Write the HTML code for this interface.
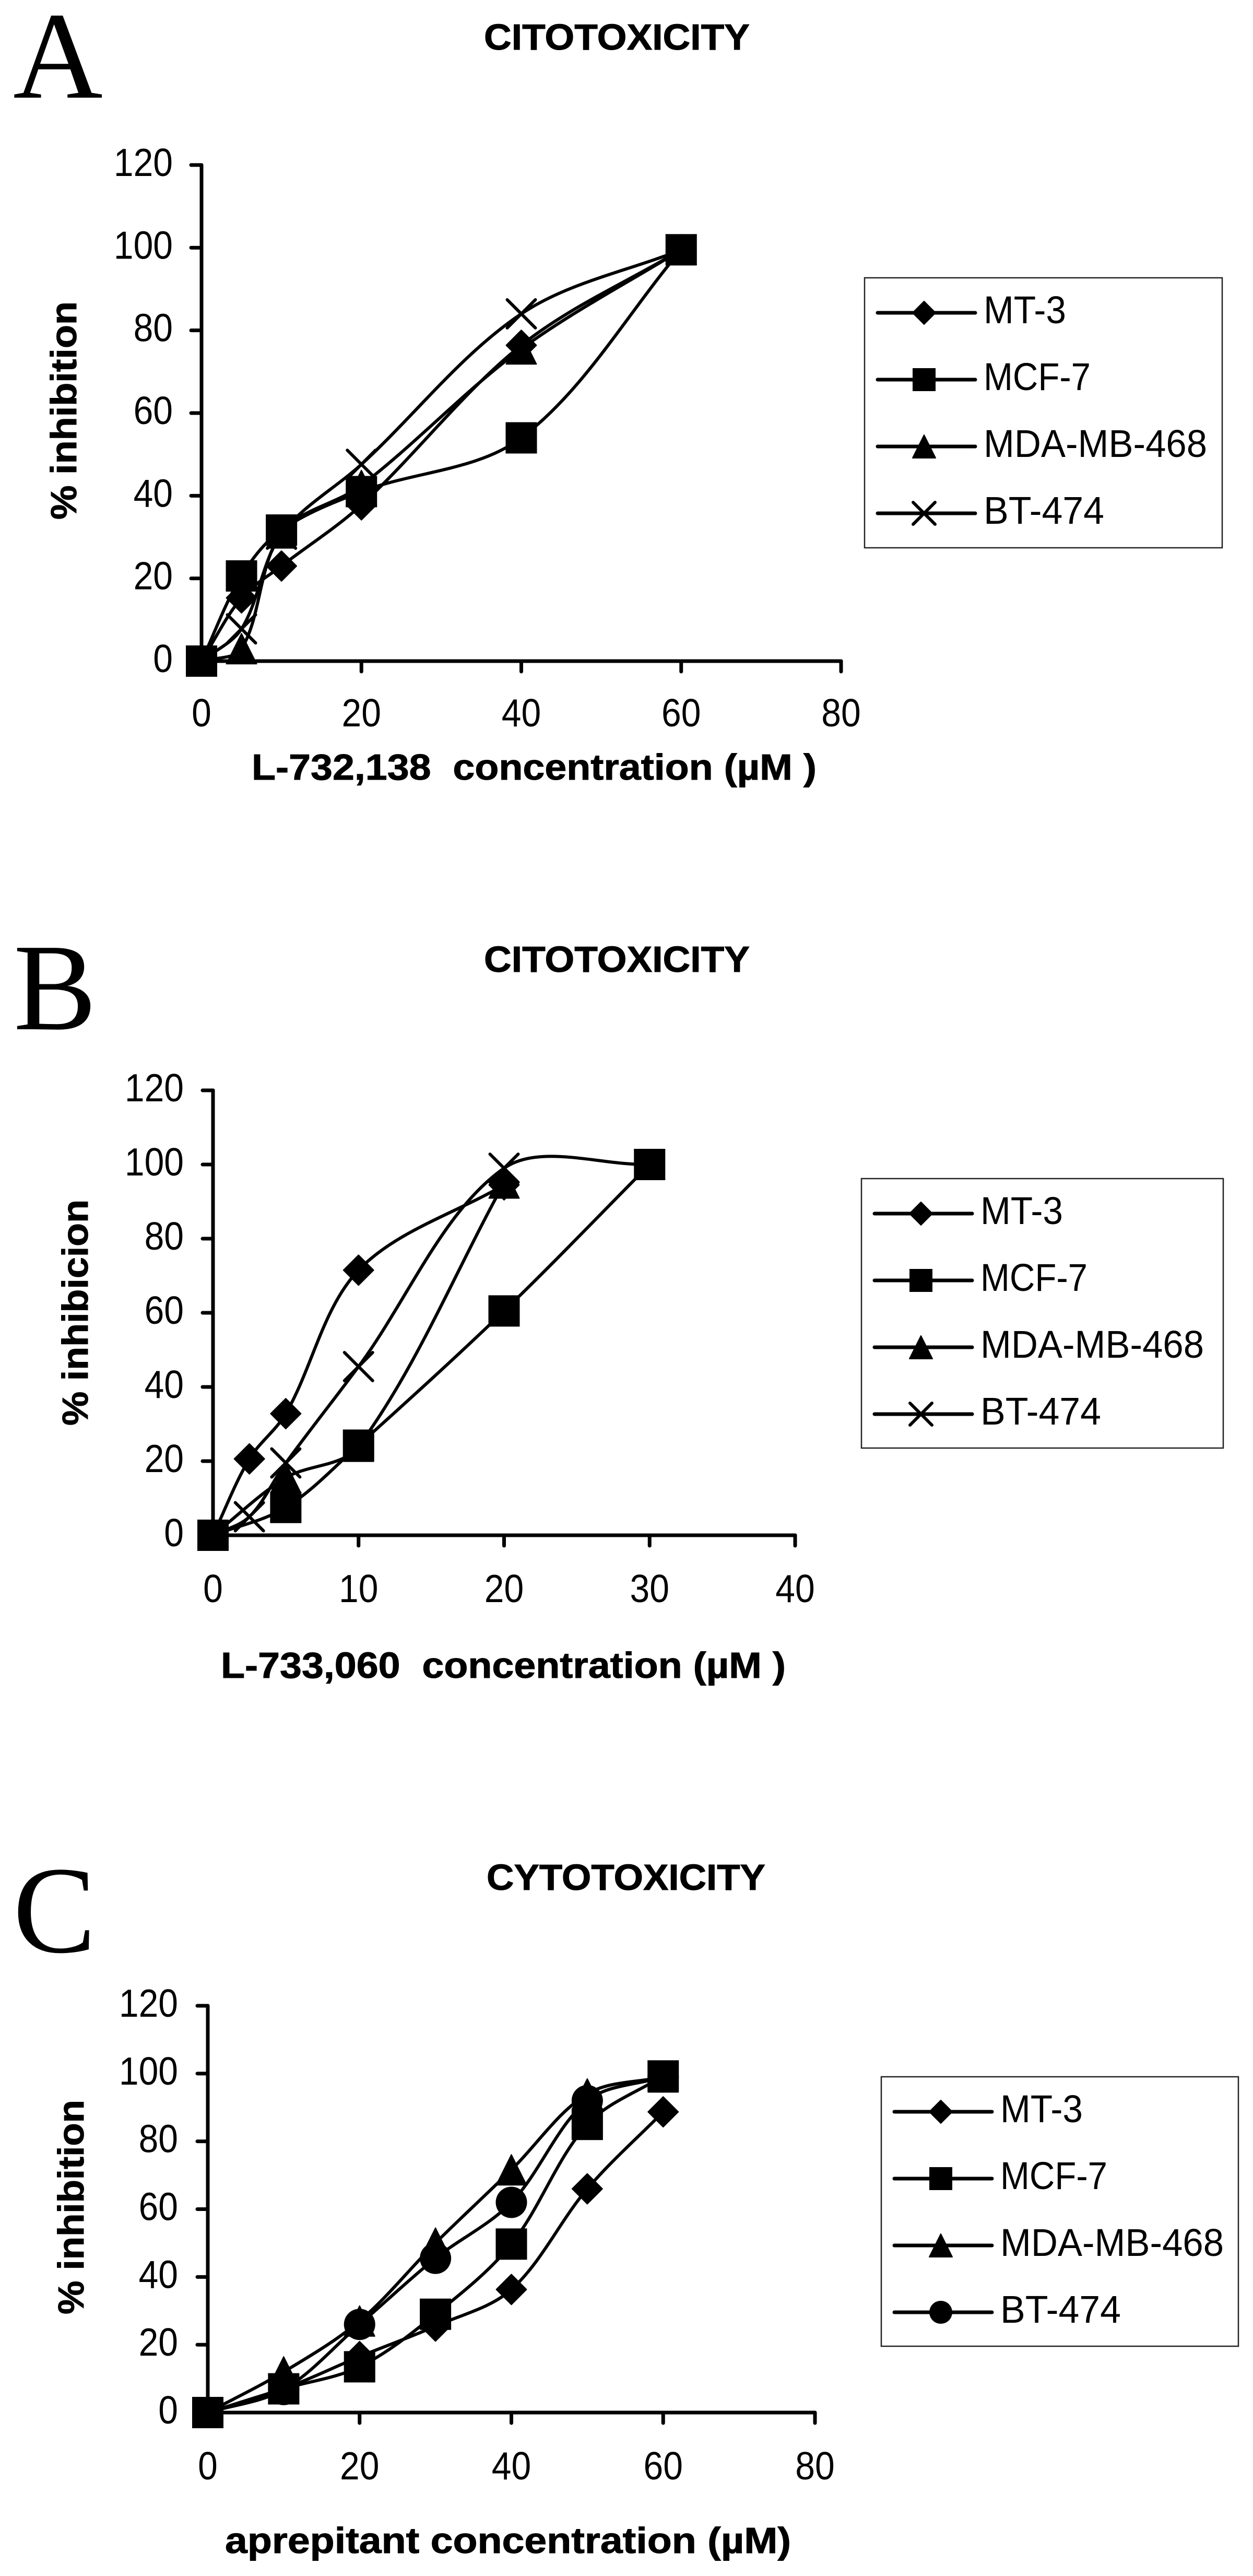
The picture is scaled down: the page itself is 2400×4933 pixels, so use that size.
<!DOCTYPE html>
<html lang="en">
<head>
<meta charset="utf-8">
<title>Cytotoxicity charts</title>
<style>
html,body{margin:0;padding:0;background:#fff;width:2400px;height:4933px;overflow:hidden}
svg{display:block}
text{fill:#000;font-family:"Liberation Sans",Arial,sans-serif}
.letter{font-family:"Liberation Serif","Times New Roman",serif;font-size:238px}
.bold{font-weight:bold;font-size:70px;white-space:pre;stroke:#000;stroke-width:1}
.tick{font-size:75px}
.leg{font-size:74px}
</style>
</head>
<body>
<svg id="figure" xmlns="http://www.w3.org/2000/svg" width="2400" height="4933" viewBox="0 0 2400 4933">
  <rect x="0" y="0" width="2400" height="4933" fill="#fff"/>

  <g id="panel-a">
    <text class="letter" x="25" y="187">A</text>
    <text class="bold" x="927" y="95" textLength="509" lengthAdjust="spacingAndGlyphs">CITOTOXICITY</text>
    <text class="bold" x="482" y="1493" textLength="1082" lengthAdjust="spacingAndGlyphs">L-732,138&#160;&#160;concentration (µM )</text>
    <text class="bold" transform="translate(146,995) rotate(-90)" x="0" y="0" textLength="418" lengthAdjust="spacingAndGlyphs">% inhibition</text>
  </g>

  <g id="panel-b">
    <text class="letter" x="26" y="1971">B</text>
    <text class="bold" x="927" y="1861" textLength="509" lengthAdjust="spacingAndGlyphs">CITOTOXICITY</text>
    <text class="bold" x="423" y="3213" textLength="1082" lengthAdjust="spacingAndGlyphs">L-733,060&#160;&#160;concentration (µM )</text>
    <text class="bold" transform="translate(168,2730) rotate(-90)" x="0" y="0" textLength="433" lengthAdjust="spacingAndGlyphs">% inhibicion</text>
  </g>

  <g id="panel-c">
    <text class="letter" x="25" y="3738">C</text>
    <text class="bold" x="932" y="3619" textLength="534" lengthAdjust="spacingAndGlyphs">CYTOTOXICITY</text>
    <text class="bold" x="431" y="4889" textLength="1084" lengthAdjust="spacingAndGlyphs">aprepitant concentration (µM)</text>
    <text class="bold" transform="translate(160,4432) rotate(-90)" x="0" y="0" textLength="411" lengthAdjust="spacingAndGlyphs">% inhibition</text>
  </g>
</svg>

<script>
// Axis tick labels
const yTicks = [0, 20, 40, 60, 80, 100, 120];
const xTicksA = [0, 20, 40, 60, 80];
const xTicksB = [0, 10, 20, 30, 40];
const xTicksC = [0, 20, 40, 60, 80];

// Panel A: L-732,138
const aMt3X = [0, 5, 10, 20, 40, 60];
const aMt3Y = [0, 15.3, 23, 37.8, 76.4, 99.5];
const aMcfX = [0, 5, 10, 20, 40, 60];
const aMcfY = [0, 20.6, 31.7, 41, 54, 99.5];
const aMdaX = [0, 5, 10, 20, 40, 60];
const aMdaY = [0, 3, 31, 42.5, 75.5, 99.5];
const aBtX = [0, 5, 10, 20, 40, 60];
const aBtY = [0, 7.8, 30.7, 47.6, 84, 99.5];

// Panel B: L-733,060
const bMt3X = [0, 2.5, 5, 10, 20];
const bMt3Y = [0, 20.6, 32.8, 71.5, 94.5];
const bMcfX = [0, 5, 10, 20, 30];
const bMcfY = [0, 7.5, 24.3, 60.5, 100];
const bMdaX = [0, 5, 10, 20];
const bMdaY = [0, 15.5, 24, 95];
const bBtX = [0, 2.5, 5, 10, 20, 30];
const bBtY = [0, 5, 19.5, 45.5, 99, 100];

// Panel C: aprepitant
const cMt3X = [0, 10, 20, 30, 40, 50, 60];
const cMt3Y = [0, 7, 16.5, 25.5, 36.3, 66, 88.7];
const cMcfX = [0, 10, 20, 30, 40, 50, 60];
const cMcfY = [0, 7, 13.5, 29, 49.7, 85, 99.3];
const cMdaX = [0, 10, 20, 30, 40, 50, 60];
const cMdaY = [0, 12, 27, 50, 71.6, 94, 99];
const cBtX = [0, 10, 20, 30, 40, 50, 60];
const cBtY = [0, 6.8, 26, 45.5, 62, 92, 99];

// Legend text
const legendLabels = ['MT-3', 'MCF-7', 'MDA-MB-468', 'BT-474'];

const SVG_NS = 'http://www.w3.org/2000/svg';
const LEGEND_TEXT_WIDTH = {'MT-3': 158, 'MCF-7': 205, 'MDA-MB-468': 428, 'BT-474': 231};

function make(parent, tag, attrs) {
  const el = document.createElementNS(SVG_NS, tag);
  for (const k in attrs) el.setAttribute(k, attrs[k]);
  parent.appendChild(el);
  return el;
}

function dist(a, b) {
  return Math.hypot(a[0] - b[0], a[1] - b[1]);
}

// Chord-length scaled smoothing, close to spreadsheet "smoothed line" curves
function smoothPath(pts) {
  let d = 'M' + pts[0][0].toFixed(1) + ' ' + pts[0][1].toFixed(1);
  for (let i = 0; i < pts.length - 1; i++) {
    const p0 = pts[Math.max(i - 1, 0)], p1 = pts[i], p2 = pts[i + 1], p3 = pts[Math.min(i + 2, pts.length - 1)];
    const seg = dist(p1, p2);
    const before = dist(p0, p1), after = dist(p2, p3);
    const k1 = seg / (before + seg) / 3;
    const k2 = seg / (seg + after) / 3;
    const c1x = p1[0] + (p2[0] - p0[0]) * k1, c1y = p1[1] + (p2[1] - p0[1]) * k1;
    const c2x = p2[0] - (p3[0] - p1[0]) * k2, c2y = p2[1] - (p3[1] - p1[1]) * k2;
    d += 'C' + c1x.toFixed(1) + ' ' + c1y.toFixed(1) + ' ' + c2x.toFixed(1) + ' ' + c2y.toFixed(1) + ' ' + p2[0].toFixed(1) + ' ' + p2[1].toFixed(1);
  }
  return d;
}

function drawMarker(parent, kind, cx, cy, half) {
  let el;
  if (kind === 'diamond') {
    el = make(parent, 'polygon', {points: cx + ',' + (cy - half) + ' ' + (cx + half) + ',' + cy + ' ' + cx + ',' + (cy + half) + ' ' + (cx - half) + ',' + cy, fill: '#000', stroke: '#000', 'stroke-width': 2, 'stroke-linejoin': 'round'});
  } else if (kind === 'square') {
    el = make(parent, 'rect', {x: cx - half, y: cy - half, width: half * 2, height: half * 2, fill: '#000'});
  } else if (kind === 'triangle') {
    el = make(parent, 'polygon', {points: cx + ',' + (cy - half) + ' ' + (cx + half) + ',' + (cy + half) + ' ' + (cx - half) + ',' + (cy + half), fill: '#000', stroke: '#000', 'stroke-width': 2, 'stroke-linejoin': 'round'});
  } else if (kind === 'circle') {
    el = make(parent, 'ellipse', {cx: cx, cy: cy, rx: half, ry: half, fill: '#000'});
  } else {
    const d = 'M' + (cx - half) + ' ' + (cy - half) + 'L' + (cx + half) + ' ' + (cy + half) + 'M' + (cx + half) + ' ' + (cy - half) + 'L' + (cx - half) + ' ' + (cy + half);
    el = make(parent, 'path', {d: d, fill: 'none', stroke: '#000', 'stroke-width': 6, 'stroke-linecap': 'round'});
  }
  return el;
}

function markerHalf(kind) {
  if (kind === 'cross') return 27;
  if (kind === 'square' || kind === 'circle') return 30;
  return 29;
}

function drawPanel(cfg) {
  const root = document.getElementById(cfg.id);
  const xScale = v => cfg.x0 + (v - cfg.xTicks[0]) * (cfg.x1 - cfg.x0) / (cfg.xTicks[cfg.xTicks.length - 1] - cfg.xTicks[0]);
  const yScale = v => cfg.y0 + v * (cfg.yTop - cfg.y0) / 120;
  const line = {stroke: '#000', 'stroke-width': 7, 'stroke-linecap': 'round'};

  const yAxis = make(root, 'line', Object.assign({x1: cfg.x0, y1: yScale(120), x2: cfg.x0, y2: yScale(0)}, line));
  
  
  const xAxis = make(root, 'line', Object.assign({x1: cfg.x0, y1: yScale(0), x2: cfg.x1, y2: yScale(0)}, line));
  
  

  yTicks.forEach(v => {
    const y = yScale(v);
    const t = make(root, 'line', Object.assign({x1: cfg.x0 - 20, y1: y, x2: cfg.x0, y2: y}, line));
    
    
    const s = String(v);
    const lab = make(root, 'text', {class: 'tick', x: cfg.yLabelRight, y: y + 21, 'text-anchor': 'end', textLength: s.length * 37.7, lengthAdjust: 'spacingAndGlyphs'});
    lab.textContent = s;
    
    
  });
  cfg.xTicks.forEach(v => {
    const x = xScale(v);
    const t = make(root, 'line', Object.assign({x1: x, y1: yScale(0), x2: x, y2: yScale(0) + 20}, line));
    
    
    const s = String(v);
    const lab = make(root, 'text', {class: 'tick', x: x, y: cfg.xLabelBase, 'text-anchor': 'middle', textLength: s.length * 37.7, lengthAdjust: 'spacingAndGlyphs'});
    lab.textContent = s;
    
    
  });

  cfg.series.forEach(s => {
    const pts = s.xs.map((v, i) => [xScale(v), yScale(s.ys[i])]);
    const path = make(root, 'path', {d: smoothPath(pts), fill: 'none', stroke: '#000', 'stroke-width': 6, 'stroke-linejoin': 'round', 'stroke-linecap': 'round'});
    
    
    pts.forEach(p => {
      const m = drawMarker(root, s.kind, p[0], p[1], markerHalf(s.kind));
      
      
    });
  });

  const box = make(root, 'rect', {x: cfg.legX, y: cfg.legY, width: cfg.legW, height: cfg.legH, fill: 'none', stroke: '#222', 'stroke-width': 2.5});
  
  
  legendLabels.forEach((label, i) => {
    const y = cfg.legY + 67 + i * 128;
    const kind = cfg.series[i].kind;
    const swatch = make(root, 'line', {x1: cfg.legX + 25, y1: y, x2: cfg.legX + 212, y2: y, stroke: '#000', 'stroke-width': 7, 'stroke-linecap': 'round'});
    
    
    const mark = drawMarker(root, kind, cfg.legX + 114, y, kind === 'cross' ? 21 : 22);
    
    
    const txt = make(root, 'text', {class: 'leg', x: cfg.legX + 228, y: y + 20, textLength: LEGEND_TEXT_WIDTH[label], lengthAdjust: 'spacingAndGlyphs'});
    txt.textContent = label;
    
    
  });
}

drawPanel({
  id: 'panel-a', x0: 386, x1: 1611, y0: 1266, yTop: 316, xTicks: xTicksA,
  yLabelRight: 331, xLabelBase: 1391, legX: 1656, legY: 532, legW: 685, legH: 517,
  series: [
    {name: 'mt-3', kind: 'diamond', xs: aMt3X, ys: aMt3Y},
    {name: 'mcf-7', kind: 'square', xs: aMcfX, ys: aMcfY},
    {name: 'mda-mb-468', kind: 'triangle', xs: aMdaX, ys: aMdaY},
    {name: 'bt-474', kind: 'cross', xs: aBtX, ys: aBtY}
  ]
});
drawPanel({
  id: 'panel-b', x0: 408, x1: 1523, y0: 2940, yTop: 2088, xTicks: xTicksB,
  yLabelRight: 352, xLabelBase: 3068, legX: 1650, legY: 2257, legW: 693, legH: 516,
  series: [
    {name: 'mt-3', kind: 'diamond', xs: bMt3X, ys: bMt3Y},
    {name: 'mcf-7', kind: 'square', xs: bMcfX, ys: bMcfY},
    {name: 'mda-mb-468', kind: 'triangle', xs: bMdaX, ys: bMdaY},
    {name: 'bt-474', kind: 'cross', xs: bBtX, ys: bBtY}
  ]
});
drawPanel({
  id: 'panel-c', x0: 398, x1: 1561, y0: 4620, yTop: 3841, xTicks: xTicksC,
  yLabelRight: 341, xLabelBase: 4748, legX: 1688, legY: 3977, legW: 684, legH: 516,
  series: [
    {name: 'mt-3', kind: 'diamond', xs: cMt3X, ys: cMt3Y},
    {name: 'mcf-7', kind: 'square', xs: cMcfX, ys: cMcfY},
    {name: 'mda-mb-468', kind: 'triangle', xs: cMdaX, ys: cMdaY},
    {name: 'bt-474', kind: 'circle', xs: cBtX, ys: cBtY}
  ]
});
</script>
</body>
</html>
